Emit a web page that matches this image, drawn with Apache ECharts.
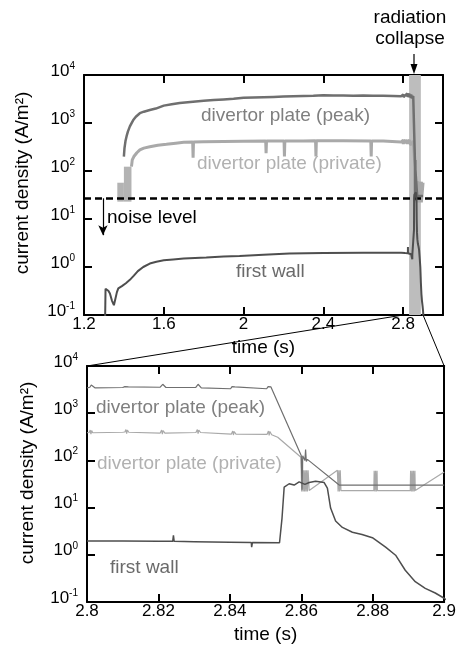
<!DOCTYPE html>
<html><head><meta charset="utf-8">
<script src="https://cdn.jsdelivr.net/npm/echarts@6.0.0/dist/echarts.min.js"></script>
<style>html,body{margin:0;padding:0;background:#fff}#c{width:459px;height:645px}</style>
</head><body><div id="c"></div>
<script>
const FONT = '"Liberation Sans", Arial, Helvetica, sans-serif';

// ---- tick settings ----
const topTimeTicks = [1.2, 1.6, 2.0, 2.4, 2.8];   // top panel, axis runs to 3.0
const topTimeMax = 3.0;
const zoomTimeTicks = [2.8, 2.82, 2.84, 2.86, 2.88, 2.9];
const densityExponents = [-1, 0, 1, 2, 3, 4];       // 10^-1 .. 10^4
const noiseLevel = 27;
const collapseBand = [2.83, 2.889];

// ---- top panel, 1.2 - 2.8 s ----
const peakCoarse = [
  [1.400, 200], [1.403, 300], [1.408, 420], [1.415, 560], [1.420, 660], [1.430, 850],
  [1.440, 1020], [1.447, 1150], [1.460, 1350], [1.480, 1600], [1.500, 1720], [1.530, 1870],
  [1.560, 2000], [1.600, 2300], [1.640, 2450], [1.680, 2600], [1.720, 2700], [1.760, 2800],
  [1.800, 2900], [1.850, 3000], [1.900, 3100], [1.950, 3200], [2.000, 3350], [2.050, 3400],
  [2.100, 3450], [2.150, 3500], [2.200, 3550], [2.250, 3600], [2.300, 3650], [2.350, 3700],
  [2.400, 3800], [2.450, 3750], [2.500, 3750], [2.550, 3700], [2.600, 3750], [2.650, 3700],
  [2.700, 3700], [2.750, 3650], [2.790, 3600]
];
const privateCoarse = [
  [1.438, 123], [1.442, 170], [1.450, 200], [1.465, 240], [1.480, 275], [1.500, 300],
  [1.530, 320], [1.570, 345], [1.613, 360], [1.660, 380], [1.700, 395], [1.745, 400],
  [1.747, 190], [1.749, 400], [1.800, 405], [1.900, 410], [2.000, 415], [2.111, 420],
  [2.113, 235], [2.115, 420], [2.203, 420], [2.205, 200], [2.207, 420], [2.300, 420],
  [2.361, 425], [2.363, 200], [2.365, 425], [2.500, 425], [2.638, 420], [2.640, 200],
  [2.642, 420], [2.700, 420], [2.790, 400]
];
const privateStartBlocks = [ [1.367, 23, 1.400, 57], [1.400, 23, 1.438, 123] ];
const firstWallCoarse = [
  [1.306, 0.09], [1.308, 0.35], [1.315, 0.33], [1.322, 0.32], [1.330, 0.28], [1.340, 0.2],
  [1.350, 0.16], [1.356, 0.17], [1.365, 0.3], [1.372, 0.36], [1.390, 0.40], [1.410, 0.46],
  [1.430, 0.54], [1.450, 0.66], [1.470, 0.82], [1.497, 1.0], [1.530, 1.18], [1.563, 1.29],
  [1.600, 1.38], [1.647, 1.44], [1.700, 1.5], [1.813, 1.58], [1.900, 1.65], [1.980, 1.7],
  [2.100, 1.8], [2.230, 1.9], [2.400, 1.95], [2.600, 1.97], [2.700, 1.98], [2.790, 1.98]
];

// ---- zoomed panel, 2.8 - 2.9 s ----
const peakDetail = [
  [2.8000, 3450], [2.8008, 3550], [2.8012, 3950], [2.8016, 3700], [2.8022, 3450],
  [2.8100, 3500], [2.8106, 3650], [2.8111, 3800], [2.8116, 3600], [2.8121, 3500],
  [2.8205, 3550], [2.8209, 3800], [2.8212, 4100], [2.8216, 3800], [2.8221, 3500],
  [2.8304, 3500], [2.8308, 3850], [2.8311, 4100], [2.8315, 3750], [2.8320, 3450],
  [2.8402, 3300], [2.8406, 3650], [2.8410, 3900], [2.8414, 3600], [2.8419, 3300],
  [2.8503, 3300], [2.8507, 3650], [2.8511, 3950], [2.8515, 3600], [2.8520, 3350],
  [2.8600, 125], [2.8602, 24], [2.8604, 125], [2.8610, 100], [2.8612, 170], [2.8614, 95],
  [2.8617, 105], [2.8706, 30], [2.8800, 30], [2.8900, 30], [2.9000, 30]
];
const privateDetail = [
  [2.8000, 385], [2.8006, 390], [2.8009, 440], [2.8011, 360], [2.8013, 430], [2.8016, 385],
  [2.8100, 395], [2.8106, 400], [2.8109, 450], [2.8111, 370], [2.8113, 440], [2.8117, 395],
  [2.8205, 380], [2.8209, 440], [2.8211, 360], [2.8213, 430], [2.8218, 380],
  [2.8305, 390], [2.8309, 450], [2.8311, 370], [2.8313, 440], [2.8318, 390],
  [2.8404, 360], [2.8408, 420], [2.8410, 345], [2.8412, 410], [2.8417, 360],
  [2.8504, 355], [2.8508, 420], [2.8510, 340], [2.8512, 410], [2.8517, 350],
  [2.8534, 310], [2.8599, 117],
  [2.8601, 22], [2.8603, 107], [2.8605, 22], [2.8607, 62], [2.8609, 22], [2.8611, 62],
  [2.8613, 22], [2.8615, 62], [2.8617, 22], [2.8619, 62], [2.8622, 23],
  [2.8701, 62], [2.8703, 22], [2.8705, 62], [2.8707, 22], [2.8709, 62], [2.8711, 23],
  [2.8803, 23], [2.8804, 60], [2.8806, 22], [2.8808, 60], [2.8810, 22], [2.8812, 60], [2.8813, 23],
  [2.8905, 23], [2.8906, 60], [2.8908, 22], [2.8910, 60], [2.8912, 22], [2.8914, 60],
  [2.8916, 22], [2.8918, 60], [2.8919, 23], [2.9000, 57]
];
const firstWallDetail = [
  [2.8000, 1.95], [2.8100, 1.95], [2.8200, 1.93], [2.8240, 1.93], [2.8242, 2.6], [2.8244, 1.93],
  [2.8300, 1.9], [2.8400, 1.85], [2.8460, 1.82], [2.8461, 1.45], [2.8463, 1.82], [2.8539, 1.8],
  [2.8546, 6], [2.8552, 27], [2.8566, 32], [2.8580, 30], [2.8594, 35], [2.8610, 31],
  [2.8622, 34], [2.8640, 36], [2.8664, 34], [2.8673, 26], [2.8682, 9.8], [2.8696, 5.2],
  [2.8715, 3.8], [2.8743, 3.0], [2.8770, 2.7], [2.8799, 2.3], [2.8836, 1.45], [2.8864, 0.98],
  [2.8891, 0.47], [2.8919, 0.27], [2.8947, 0.195], [2.8975, 0.155], [2.9000, 0.12], [2.9030, 0.08]
];

const C_PEAK = '#6f6f6f', C_PRIV = '#a9a9a9', C_WALL = '#4e4e4e', C_BAND = '#bdbdbd';
const T_PEAK = '#7f7f7f', T_PRIV = '#b1b1b1', T_WALL = '#6a6a6a';

const yMin = Math.pow(10, densityExponents[0]);
const yMax = Math.pow(10, densityExponents[densityExponents.length - 1]);

function xAx(grid, ticks, max, pos, labels, name, showMax) {
  return {
    type: 'value', gridIndex: grid, min: ticks[0], max: max,
    interval: +(ticks[1] - ticks[0]).toFixed(4), position: pos,
    axisLine: { show: true, onZero: false, lineStyle: { color: '#000', width: 2 } },
    axisTick: { show: true, inside: true, length: 8, lineStyle: { color: '#000', width: 2 } },
    axisLabel: { show: labels, color: '#000', fontSize: 17, fontFamily: FONT, margin: 1,
      showMaxLabel: showMax, showMinLabel: true },
    splitLine: { show: false },
    name: name || '', nameLocation: 'middle', nameGap: 23,
    nameTextStyle: { color: '#000', fontSize: 19, fontFamily: FONT }
  };
}
function yAx(grid, pos, labels) {
  return {
    type: 'log', logBase: 10, gridIndex: grid, min: yMin, max: yMax, position: pos,
    axisLine: { show: true, onZero: false, lineStyle: { color: '#000', width: 2 } },
    axisTick: { show: true, inside: true, length: 8, lineStyle: { color: '#000', width: 2 } },
    minorTick: { show: false },
    axisLabel: {
      show: labels, margin: 9, padding: [0, 0, 8, 0],
      formatter: v => '{b|10}{s|' + Math.round(Math.log10(v)) + '}',
      rich: {
        b: { fontSize: 17, fontFamily: FONT, color: '#000', lineHeight: 20 },
        s: { fontSize: 10, fontFamily: FONT, color: '#000', lineHeight: 10, verticalAlign: 'top' }
      }
    },
    splitLine: { show: false }
  };
}
function line(xi, data, color, width, z) {
  return { type: 'line', xAxisIndex: xi, yAxisIndex: xi, data: data, showSymbol: false,
    symbol: 'none', clip: true, z: z, lineStyle: { color: color, width: width } };
}
function txt(id, x, y, text, color, align) {
  return { type: 'text', id: id, x: x, y: y, z: 100,
    style: { text: text, fill: color, fontSize: 19, fontFamily: FONT,
      align: align || 'left', verticalAlign: 'middle' } };
}

const peakTop = peakCoarse.concat(peakDetail);
const privateTop = privateCoarse.concat(privateDetail);
const firstWallTop = firstWallCoarse.concat(firstWallDetail);

const bandSeries = { type: 'line', xAxisIndex: 0, yAxisIndex: 0, data: [], z: 1,
  markArea: { silent: true, itemStyle: { color: C_BAND },
    data: [[{ xAxis: collapseBand[0] }, { xAxis: collapseBand[1] }]].concat(
      privateStartBlocks.map(b => [{ coord: [b[0], b[1]], itemStyle: { color: '#b3b3b3' } }, { coord: [b[2], b[3]] }])) } };

const sPeakTop = line(0, peakTop, C_PEAK, 2.5, 4);
sPeakTop.markLine = { silent: true, symbol: ['none', 'none'], label: { show: false },
  lineStyle: { color: '#000', width: 2.5, type: [7, 4] }, data: [{ yAxis: noiseLevel }] };
const sWallTop = line(0, firstWallTop, C_WALL, 2, 5);
sWallTop.markLine = { silent: true, symbol: ['none', 'arrow'], symbolSize: [7, 10],
  label: { show: false }, lineStyle: { color: '#000', width: 1.2, type: 'solid' },
  data: [[{ coord: [1.295, noiseLevel] }, { coord: [1.295, 4.6] }]] };

const option = {
  animation: false,
  backgroundColor: '#fff',
  grid: [
    { left: 84, top: 75, width: 359, height: 240 },
    { left: 87, top: 366, width: 359, height: 240 }
  ],
  xAxis: [
    xAx(0, topTimeTicks, topTimeMax, 'bottom', true, 'time (s)', false),
    xAx(0, topTimeTicks, topTimeMax, 'top', false, '', false),
    xAx(1, zoomTimeTicks, zoomTimeTicks[zoomTimeTicks.length - 1], 'bottom', true, 'time (s)', true),
    xAx(1, zoomTimeTicks, zoomTimeTicks[zoomTimeTicks.length - 1], 'top', false, '', true)
  ],
  yAxis: [yAx(0, 'left', true), yAx(0, 'right', false), yAx(1, 'left', true), yAx(1, 'right', false)],
  series: [
    bandSeries,
    line(0, privateTop, C_PRIV, 3, 3),
    sPeakTop,
    sWallTop,
    line(2, privateDetail, C_PRIV, 1.2, 3),
    line(2, peakDetail, C_PEAK, 1.2, 4),
    line(2, firstWallDetail, C_WALL, 1.5, 5)
  ],
  graphic: [
    txt('t1', 201, 116, 'divertor plate (peak)', T_PEAK),
    txt('t2', 197, 164, 'divertor plate (private)', T_PRIV),
    txt('t3', 107, 218, 'noise level', '#000'),
    txt('t4', 236, 272, 'first wall', T_WALL),
    txt('t5', 410, 18, 'radiation', '#000', 'center'),
    txt('t6', 410, 39, 'collapse', '#000', 'center'),
    txt('b1', 96, 408, 'divertor plate (peak)', T_PEAK),
    txt('b2', 97, 464, 'divertor plate (private)', T_PRIV),
    txt('b3', 110, 568, 'first wall', T_WALL),
    { type: 'text', id: 'y1', x: 23, y: 183, rotation: Math.PI / 2, z: 100,
      style: { text: 'current density (A/m²)', fill: '#000', fontSize: 19, fontFamily: FONT, align: 'center', verticalAlign: 'middle' } },
    { type: 'text', id: 'y2', x: 28, y: 473, rotation: Math.PI / 2, z: 100,
      style: { text: 'current density (A/m²)', fill: '#000', fontSize: 19, fontFamily: FONT, align: 'center', verticalAlign: 'middle' } },
    { type: 'line', id: 'ra', z: 100, shape: { x1: 414, y1: 54, x2: 414, y2: 68 }, style: { stroke: '#000', lineWidth: 1.2 } },
    { type: 'polygon', id: 'rh', z: 100, shape: { points: [[410.5, 64], [417.5, 64], [414, 74]] }, style: { fill: '#000' } }
  ]
};

const chart = echarts.init(document.getElementById('c'), null, { renderer: 'canvas', width: 459, height: 645 });
chart.setOption(option);

// connector lines from the zoomed time range on the top panel to the lower panel
const zr0 = zoomTimeTicks[0], zr1 = zoomTimeTicks[zoomTimeTicks.length - 1];
const p1 = chart.convertToPixel({ xAxisIndex: 0, yAxisIndex: 0 }, [zr0, yMin]);
const p2 = chart.convertToPixel({ xAxisIndex: 0, yAxisIndex: 0 }, [zr1, yMin]);
const q1 = chart.convertToPixel({ xAxisIndex: 2, yAxisIndex: 2 }, [zr0, yMax]);
const q2 = chart.convertToPixel({ xAxisIndex: 2, yAxisIndex: 2 }, [zr1, yMax]);
chart.setOption({ graphic: [
  { type: 'line', id: 'c1', z: 50, shape: { x1: p1[0], y1: p1[1], x2: q1[0], y2: q1[1] }, style: { stroke: '#000', lineWidth: 1 } },
  { type: 'line', id: 'c2', z: 50, shape: { x1: p2[0], y1: p2[1], x2: q2[0], y2: q2[1] }, style: { stroke: '#000', lineWidth: 1 } }
] });
</script></body></html>
